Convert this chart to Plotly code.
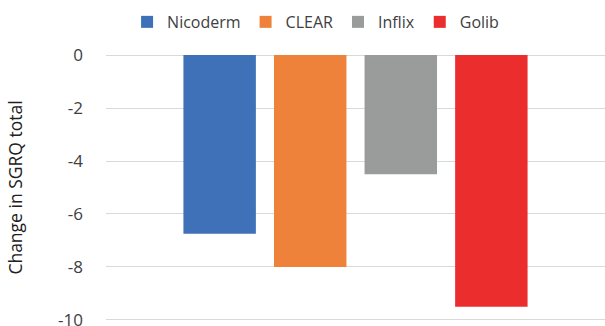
import plotly.graph_objects as go

series = ["Nicoderm", "CLEAR", "Inflix", "Golib"]
values = [-6.75, -8.0, -4.5, -9.5]
colors = ["#3E71B7", "#EF823A", "#9A9C9C", "#EC2D2D"]
category = [""]
y_ticks = [0, -2, -4, -6, -8, -10]

fig = go.Figure()
for name, val, col in zip(series, values, colors):
    fig.add_trace(go.Bar(x=category, y=[val], name=name, marker=dict(color=col, line=dict(width=0))))

FONT = "Open Sans"
fig.update_layout(
    width=605, height=326,
    margin=dict(l=106, r=0, t=54, b=5),
    paper_bgcolor="white", plot_bgcolor="white",
    barmode="group", bargap=0.274, bargroupgap=0.2,
    font=dict(family=FONT, color="#404040"),
    legend=dict(orientation="h", x=0.42, xanchor="center", y=1.12, yanchor="middle",
                font=dict(size=16, color="#404040"), itemwidth=30, traceorder="normal"),
    xaxis=dict(showticklabels=False, showgrid=False, zeroline=False, showline=False, automargin=False),
    yaxis=dict(range=[-10.04, 0.04], tickvals=y_ticks, ticktext=[str(v) for v in y_ticks],
               showgrid=True, gridcolor="#D9D9D9", gridwidth=1, zeroline=False,
               tickfont=dict(size=17, color="#404040"), ticklabelstandoff=22,
               ticklabeloverflow="allow", automargin=False,
               title=dict(text="Change in SGRQ total", font=dict(size=17.5, color="#202020"), standoff=30)),
)
fig.write_html("out.html")
